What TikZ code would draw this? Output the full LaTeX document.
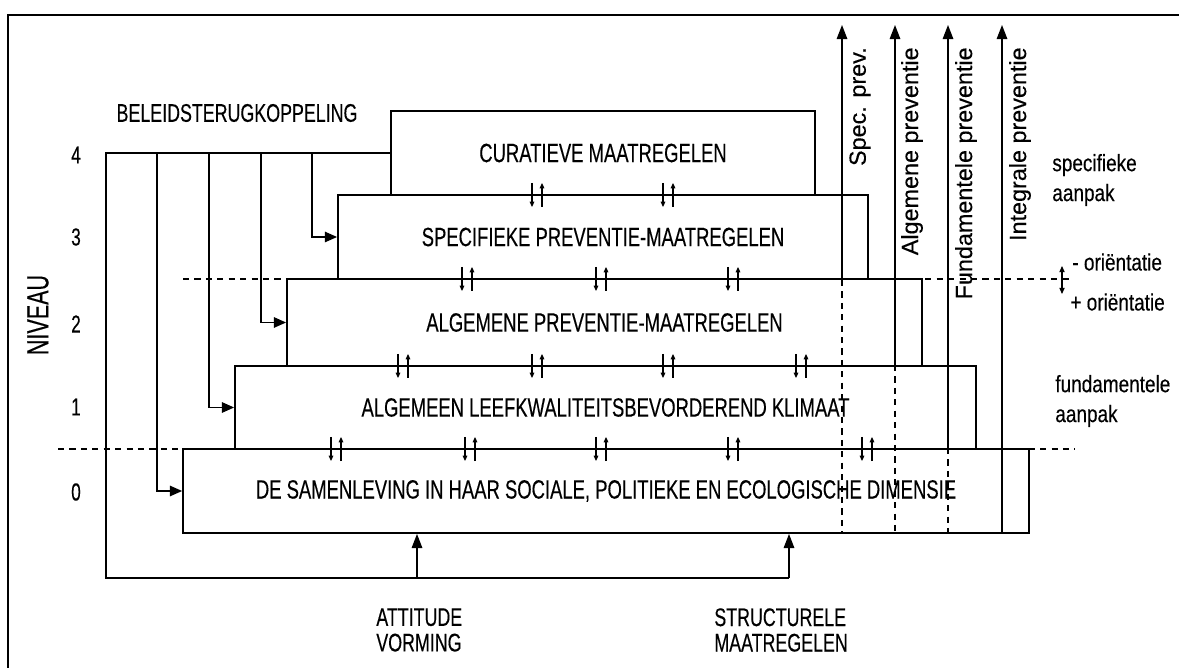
\documentclass[tikz,border=0pt]{standalone}
\usepackage{fontspec}
\setmainfont{Liberation Sans}[FakeStretch=0.7,FakeBold=0.3]
\newfontfamily\lowfont{Liberation Sans}[FakeStretch=0.8,FakeBold=0.3]
\newfontfamily\widefont{Liberation Sans}[FakeBold=0.2]
\usetikzlibrary{arrows.meta}

\begin{document}
\begin{tikzpicture}[x=0.02cm,y=-0.02cm,>=Stealth,
		box/.style={draw,line width=1.1pt,inner sep=0pt,font=\fontsize{15}{17}\selectfont},
		fb/.style={line width=0.75pt},
		fbarrow/.style={fb,-{Triangle[length=7pt,width=6pt]}},
		prevline/.style={line width=0.75pt,-{Triangle[length=8pt,width=6pt]}},
		dashline/.style={line width=0.75pt,dash pattern=on 3.5pt off 3pt},
		pair/.style={line width=0.6pt,-{Triangle[length=3pt,width=2.6pt]}},
		vlab/.style={rotate=90,anchor=east,inner sep=0pt,font=\widefont\fontsize{13.3}{15}\selectfont},
		rlab/.style={anchor=west,align=left,inner sep=0pt,font=\lowfont\fontsize{13.5}{17}\selectfont},
		num/.style={inner sep=0pt,font=\fontsize{14}{16}\selectfont}]
		\useasboundingbox (0,0) rectangle (1179,668);
		\draw[line width=1.6pt] (8,668) -- (8,15) -- (1179,15);
		% scheidingslijnen
		\draw[dashline] (183,279) -- (1072,279);
		\draw[dashline] (58,449) -- (1075,449);
		% niveaus
		\node[box,minimum width=8.48cm,minimum height=1.68cm] (cur) at (603,153) {CURATIEVE MAATREGELEN};
		\node[box,minimum width=10.6cm,minimum height=1.68cm] (spe) at (603,237) {SPECIFIEKE PREVENTIE-MAATREGELEN};
		\node[box,minimum width=12.7cm,minimum height=1.74cm] (alg) at (604.5,322.5) {ALGEMENE PREVENTIE-MAATREGELEN};
		\node[box,minimum width=14.82cm,minimum height=1.66cm] (kli) at (605.5,407.5) {ALGEMEEN LEEFKWALITEITSBEVORDEREND KLIMAAT};
		\node[box,minimum width=16.92cm,minimum height=1.68cm] (sam) at (606,491) {DE SAMENLEVING IN HAAR SOCIALE, POLITIEKE EN ECOLOGISCHE DIMENSIE};
		% wisselwerking tussen niveaus
		\foreach \px/\py in {537/195,668/195,467/279,601/279,733/279,403/366,537/366,668/366,801/366,336/449,470/449,601/449,733/449,867/449}{
			\draw[pair] (\px-5,\py-12) -- (\px-5,\py+12);
			\draw[pair] (\px+5,\py+12) -- (\px+5,\py-12);
		}
		% niveau-as
		\node[num] (n4) at (76,155) {4};
		\node[num] (n3) at (76,237) {3};
		\node[num] (n2) at (76,324) {2};
		\node[num] (n1) at (76,407) {1};
		\node[num] (n0) at (76,492) {0};
		\node[rotate=90,inner sep=0pt,font=\fontsize{17.5}{19}\selectfont] (niv) at (38,315) {NIVEAU};
		% terugkoppeling
		\node[inner sep=0pt,font=\fontsize{14.5}{16}\selectfont] (bsk) at (237,113) {BELEIDSTERUGKOPPELING};
		\coordinate (lp) at (106,578);
		\coordinate (ain) at (417,578);
		\coordinate (sin) at (789,578);
		\draw[fb] (cur.west) -| (lp) -- (sin);
		\foreach \xx/\bx in {157/sam,209/kli,261/alg,312/spe}
			\draw[fbarrow] (\xx,0 |- cur.west) |- (\bx.west);
		\draw[fbarrow,-{Triangle[length=8pt,width=6pt]}] (ain) -- (ain |- sam.south);
		\draw[fbarrow,-{Triangle[length=8pt,width=6pt]}] (sin) -- (sin |- sam.south);
		\node[anchor=west,align=left,inner sep=0pt,font=\fontsize{14.5}{14.5}\selectfont] (att) at (376,630) {ATTITUDE\\VORMING};
		\node[anchor=west,align=left,inner sep=0pt,font=\fontsize{14.5}{14.5}\selectfont] (str) at (714,630) {STRUCTURELE\\MAATREGELEN};
		% preventie-assen
		\foreach \nm/\xx/\lvl in {spec/842/spe.south,algp/895/kli.north,fund/948/sam.north,intg/1002/sam.south}{
			\coordinate (\nm top) at (\xx,25);
			\draw[prevline] (\nm top |- \lvl) -- (\nm top);
			\draw[dashline] (\nm top |- \lvl) -- (\nm top |- sam.south);
		}
		\node[vlab] (lspec) at (860,47) {Spec. prev.};
		\node[vlab] (lalg) at (912,47) {Algemene preventie};
		\node[vlab] (lfund) at (966,47) {Fundamentele preventie};
		\node[vlab] (lint) at (1020,47) {Integrale preventie};
		% rechterkant
		\node[rlab] (spa) at (1052,180) {specifieke\\aanpak};
		\node[rlab] (fua) at (1055,401) {fundamentele\\aanpak};
		\node[rlab] (omin) at (1072,262) {- oriëntatie};
		\node[rlab] (oplus) at (1070,302) {+ oriëntatie};
		\draw[line width=0.6pt,{Triangle[length=3.5pt,width=3pt]}-{Triangle[length=3.5pt,width=3pt]}] (1062,266) -- (1062,294);
\end{tikzpicture}
\end{document}
